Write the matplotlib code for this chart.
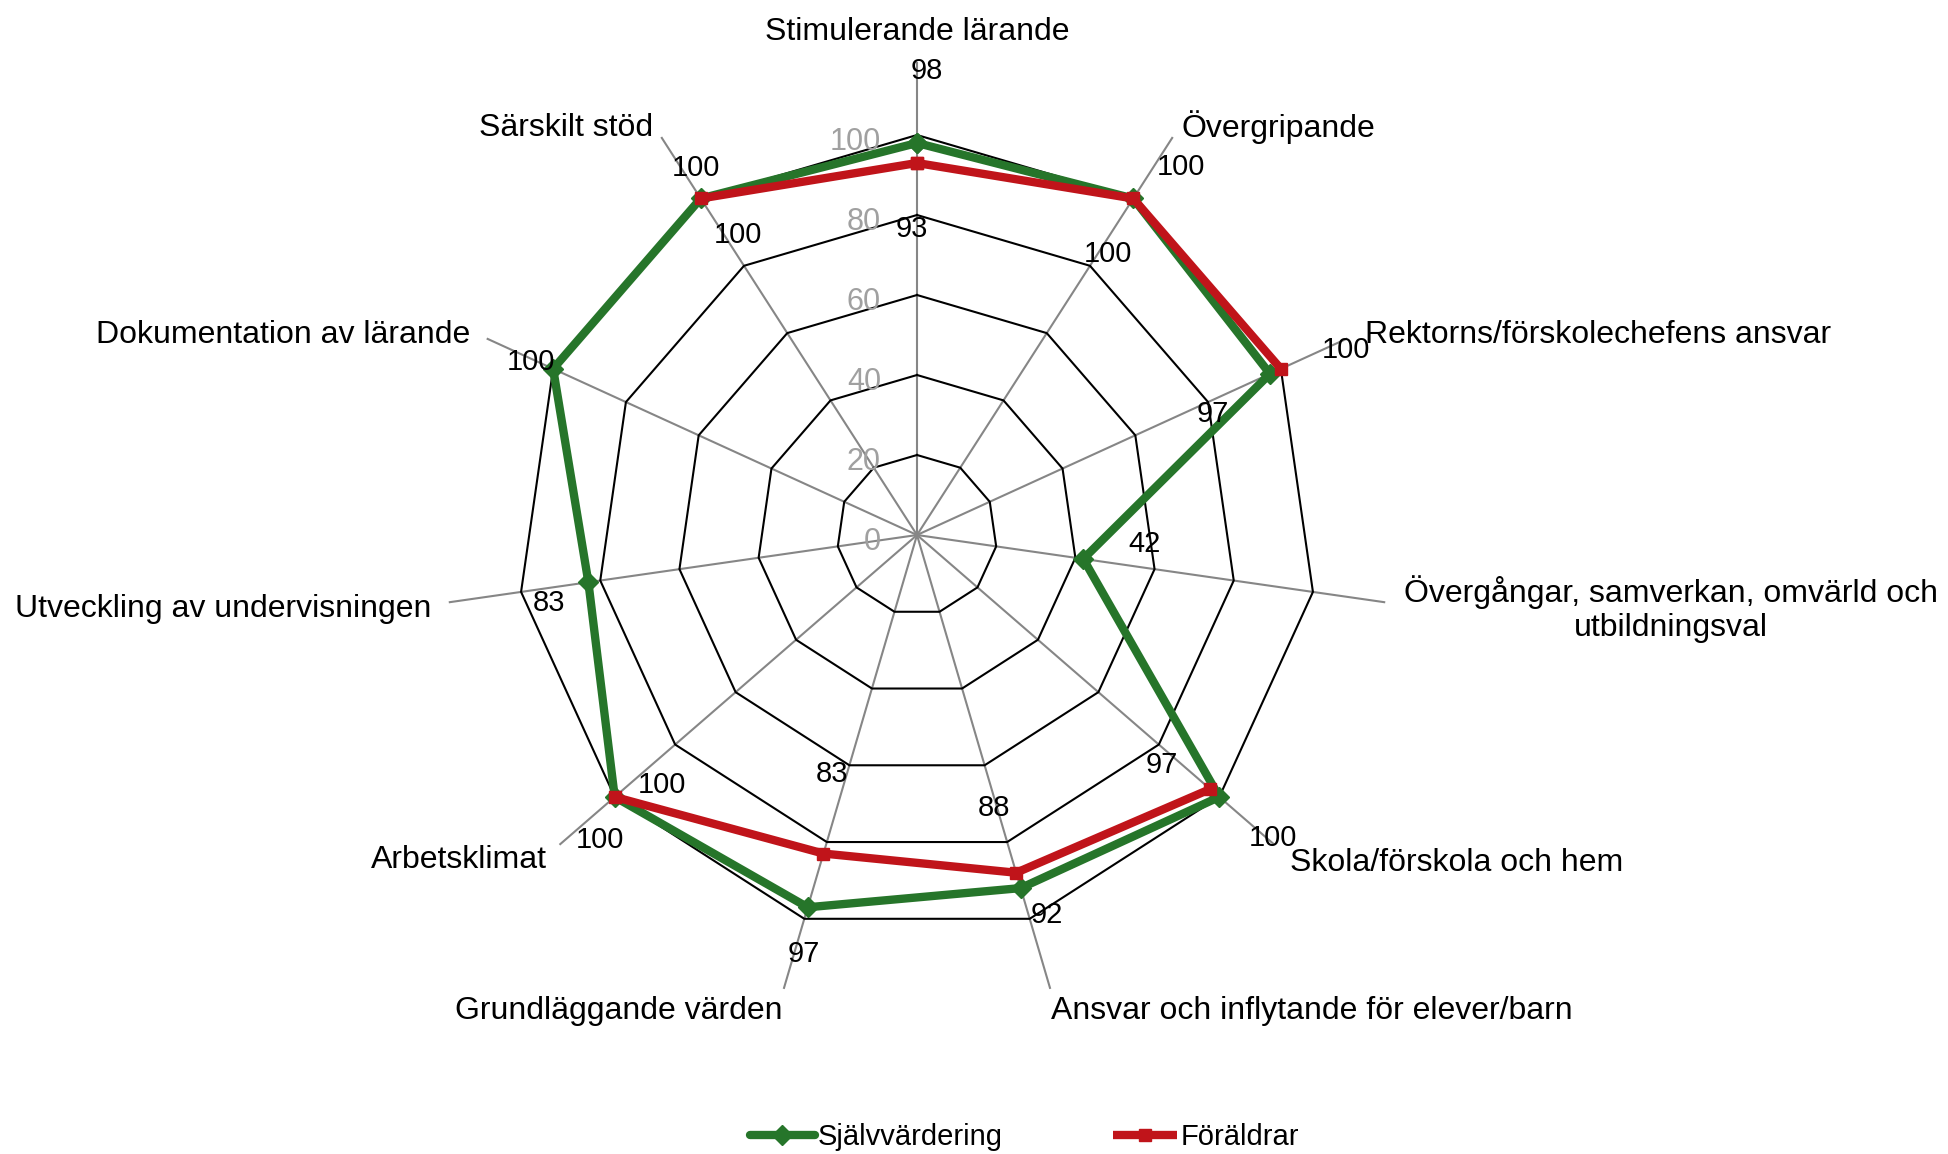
import numpy as np
import matplotlib
matplotlib.use("Agg")
import matplotlib.pyplot as plt

plt.rcParams['font.family'] = ['Liberation Sans', 'DejaVu Sans']

categories = [
    "Stimulerande lärande",
    "Övergripande",
    "Rektorns/förskolechefens ansvar",
    "Övergångar, samverkan, omvärld och\nutbildningsval",
    "Skola/förskola och hem",
    "Ansvar och inflytande för elever/barn",
    "Grundläggande värden",
    "Arbetsklimat",
    "Utveckling av undervisningen",
    "Dokumentation av lärande",
    "Särskilt stöd",
]
sjalv = [98, 100, 97, 42, 100, 92, 97, 100, 83, 100, 100]
foraldrar = [93, 100, 100, np.nan, 97, 88, 83, 100, np.nan, np.nan, 100]
series_names = ["Självvärdering", "Föräldrar"]
rticks = [0, 20, 40, 60, 80, 100]

GREEN = "#26752A"
RED = "#C0141A"

# label offsets in pixels (dx right, dy down)
green_off = [(10, -72), (48, -31), (-57, 40), (61, -15), (54, 41), (26, 27),
             (-4, 47), (-15, 43), (-39, 21), (-22, -7), (-5, -30)]
red_off = [(-5, 66), (-25, 56), (65, -19), None, (-48, -24), (-22, -65),
           (9, -80), (47, -12), None, None, (37, 37)]
# category label placement: (radius, ha, va)
cat_place = [(123, 'center', 'bottom'), (122.5, 'left', 'center'), (123, 'left', 'center'),
             (123, 'left', 'center'), (123.5, 'left', 'center'), (119, 'left', 'top'),
             (119, 'right', 'top'), (122.5, 'right', 'center'), (122.7, 'right', 'center'),
             (122.7, 'right', 'center'), (122, 'right', 'center')]

W, H = 1948, 1154
fig = plt.figure(figsize=(W / 100, H / 100), dpi=100)
cx, cy, R = 917, 535, 400
ax = fig.add_axes([(cx - R) / W, (H - cy - R) / H, 2 * R / W, 2 * R / H], projection='polar')
ax.set_theta_zero_location('N')
ax.set_theta_direction(-1)
ax.set_ylim(0, 100)
ax.grid(False)
ax.spines['polar'].set_visible(False)
ax.set_xticks([])
ax.set_yticks([])
ax.patch.set_alpha(0)

n = len(categories)
angles = np.arange(n) * 2 * np.pi / n
ang_c = np.concatenate([angles, angles[:1]])

# spokes
for a in angles:
    ax.plot([a, a], [0, 118], color="#868686", lw=1.5, clip_on=False, zorder=1)
# polygon rings
for r in rticks[1:]:
    ax.plot(ang_c, [r] * (n + 1), color="black", lw=1.5, zorder=2, clip_on=False)

# radial tick labels
for r in rticks:
    ax.annotate(str(r), xy=(0, r), xytext=(-36, -7), textcoords='offset pixels',
                ha='right', va='center', fontsize=22, color="#A0A0A0", zorder=3)

g = np.array(sjalv + sjalv[:1], dtype=float)
f = np.array(foraldrar + foraldrar[:1], dtype=float)
ax.plot(ang_c, g, color=GREEN, lw=6, marker='D', markersize=10, zorder=4,
        clip_on=False, label=series_names[0], solid_capstyle='round')
ax.plot(ang_c, f, color=RED, lw=6, marker='s', markersize=9, zorder=5,
        clip_on=False, label=series_names[1], solid_capstyle='butt')

# data labels
for i, a in enumerate(angles):
    dx, dy = green_off[i]
    ax.annotate(str(sjalv[i]), xy=(a, sjalv[i]), xytext=(dx, -dy), textcoords='offset pixels',
                ha='center', va='center', fontsize=21, color='black', zorder=6)
    if red_off[i] is not None and not np.isnan(foraldrar[i]):
        dx, dy = red_off[i]
        ax.annotate(str(int(foraldrar[i])), xy=(a, foraldrar[i]), xytext=(dx, -dy),
                    textcoords='offset pixels', ha='center', va='center', fontsize=21,
                    color='black', zorder=6)

# category labels
for i, a in enumerate(angles):
    rr, ha, va = cat_place[i]
    ax.annotate(categories[i], xy=(a, rr), xytext=(0, -4), textcoords='offset pixels',
                ha=ha, va=va, fontsize=23, color='black', multialignment='center',
                annotation_clip=False)

fig.legend(loc='center', bbox_to_anchor=(0.526, 0.0147), ncol=2, frameon=False,
           fontsize=21, handlelength=2.2, columnspacing=3.8, handletextpad=0.1)

fig.savefig("out.png", dpi=100)
